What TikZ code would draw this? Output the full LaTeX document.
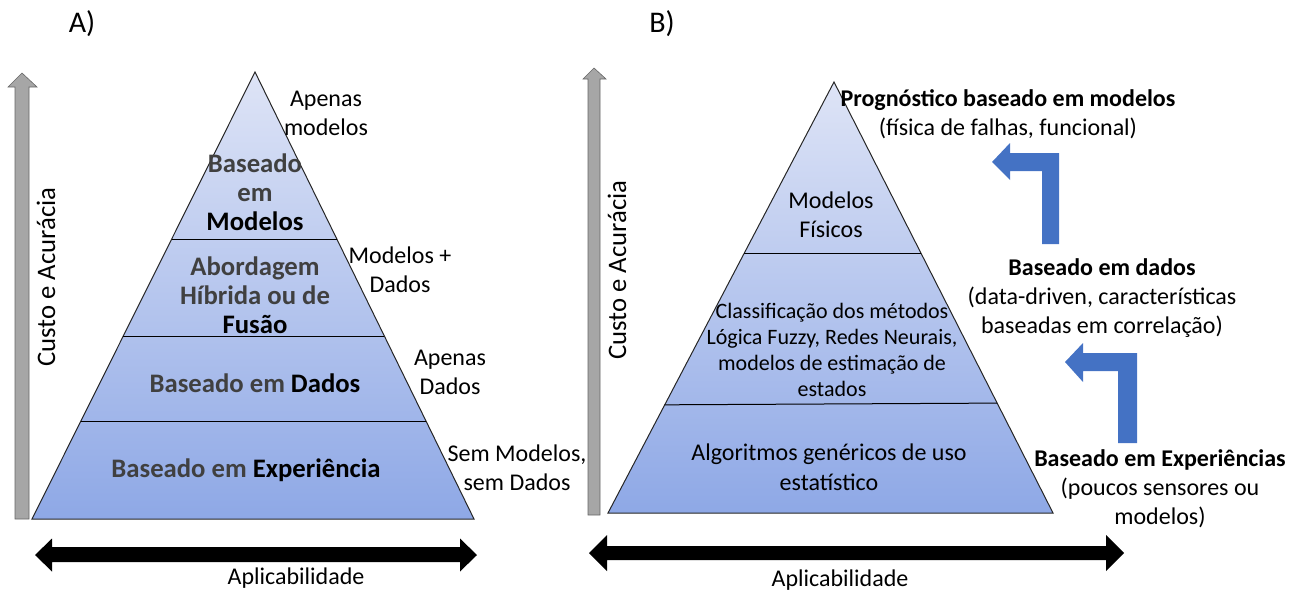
\documentclass[tikz,border=0pt]{standalone}
\usepackage{fontspec}
\setmainfont{Carlito}
\usepackage{xcolor}
\usetikzlibrary{calc}

\definecolor{topo}{RGB}{222,228,246}
\definecolor{fundo}{RGB}{142,168,230}
\definecolor{azul}{RGB}{68,114,196}
\definecolor{cinza}{RGB}{166,166,166}
\definecolor{texto}{RGB}{64,64,64}
\newcommand{\preto}[1]{\textcolor{black}{#1}}

\begin{document}
\begin{tikzpicture}[x=1pt,y=-1pt,
    rotulo/.style={font=\fontsize{24}{29}\selectfont, align=center, inner sep=0pt},
    eixo/.style={font=\fontsize{26.7}{30}\selectfont, rotate=90, inner sep=0pt},
    nivel/.style={font=\bfseries\fontsize{26.7}{29}\selectfont, text=texto, align=center, inner sep=0pt},
    letra/.style={font=\fontsize{30}{32}\selectfont, inner sep=0pt}]
    \useasboundingbox (0,0) rectangle (1305,595);

    % Painel A
    \node[letra] (la) at (82,24) {A)};

    % Piramide A
    \coordinate (TA) at (255,72);
    \coordinate (EA) at (32,519);
    \coordinate (DA) at (474,519);
    \shade[top color=topo, bottom color=fundo] (TA) -- (EA) -- (DA) -- cycle;
    \draw[line width=1pt, black!85] (TA) -- (EA) -- (DA) -- cycle;
    \draw[line width=1pt] ($(TA)!0.3736!(EA)$) -- ($(TA)!0.3736!(DA)$);
    \draw[line width=1pt] ($(TA)!0.5906!(EA)$) -- ($(TA)!0.5906!(DA)$);
    \draw[line width=1pt] ($(TA)!0.7808!(EA)$) -- ($(TA)!0.7808!(DA)$);

    \node[nivel] (a1) at (255,192) {Baseado\\em\\\preto{Modelos}};
    \node[nivel] (a2) at (255,295) {Abordagem\\Híbrida ou de\\\preto{Fusão}};
    \node[nivel] (a3) at (255,383) {Baseado em \preto{Dados}};
    \node[nivel] (a4) at (246,470) {Baseado em \preto{Experiência}};

    \node[rotulo] (ra1) at (326,113) {Apenas\\modelos};
    \node[rotulo] (ra2) at (400,270) {Modelos +\\Dados};
    \node[rotulo] (ra3) at (450,372) {Apenas\\Dados};
    \node[rotulo] (ra4) at (517,468) {Sem Modelos,\\sem Dados};

    % Eixos A
    \filldraw[fill=cinza, draw=gray!80!black, line width=0.6pt]
        (15,519) -- (15,87) -- (8,87) -- (22,73) -- (37,87) -- (29,87) -- (29,519) -- cycle;
    \node[eixo] (ca) at (46,277) {Custo e Acurácia};
    \fill (35,555) -- (52,538.5) -- (52,547) -- (460,547) -- (460,538.5) -- (477,555)
        -- (460,571.5) -- (460,562) -- (52,562) -- (52,571.5) -- cycle;
    \node[rotulo] (aa) at (296,578) {Aplicabilidade};

    % Painel B
    \node[letra] (lb) at (662,24) {B)};

    % Piramide B
    \coordinate (TB) at (834,82);
    \coordinate (EB) at (608,513);
    \coordinate (DB) at (1053,513);
    \shade[top color=topo, bottom color=fundo] (TB) -- (EB) -- (DB) -- cycle;
    \draw[line width=1pt, black!85] (TB) -- (EB) -- (DB) -- cycle;
    \draw[line width=1pt] ($(TB)!0.399!(EB)$) -- ($(TB)!0.399!(DB)$);
    \draw[line width=1pt] ($(TB)!0.749!(EB)$) -- ($(TB)!0.745!(DB)$);

    \node[rotulo] (b1) at (831,215) {Modelos\\Físicos};
    \node[rotulo, font=\fontsize{22}{26}\selectfont] (b2) at (832,350)
        {Classificação dos métodos\\Lógica Fuzzy, Redes Neurais,\\modelos de estimação de\\estados};
    \node[rotulo, font=\fontsize{24}{30}\selectfont] (b3) at (829,467) {Algoritmos genéricos de uso\\estatístico};

    \node[rotulo] (rb1) at (1008,114) {\textbf{Prognóstico baseado em modelos}\\(física de falhas, funcional)};
    \node[rotulo] (rb2) at (1102,298) {\textbf{Baseado em dados}\\(data-driven, características\\baseadas em correlação)};
    \node[rotulo] (rb3) at (1160,489) {\textbf{Baseado em Experiências}\\(poucos sensores ou\\modelos)};

    % Setas azuis
    \fill[azul] (1042,244) -- (1059,244) -- (1059,153) -- (1010,153) -- (1010,143) -- (992,162)
        -- (1010,180) -- (1010,171) -- (1042,171) -- cycle;
    \fill[azul] (1118,443) -- (1137,443) -- (1137,353) -- (1083,353) -- (1083,343) -- (1065,362)
        -- (1083,382) -- (1083,371) -- (1118,371) -- cycle;

    % Eixos B
    \filldraw[fill=cinza, draw=gray!80!black, line width=0.6pt]
        (588,515) -- (588,79) -- (583,79) -- (594,68) -- (606,79) -- (600,79) -- (600,515) -- cycle;
    \node[eixo] (cb) at (617,270) {Custo e Acurácia};
    \fill (589,553) -- (607,535) -- (607,546) -- (1106,546) -- (1106,535) -- (1124,553)
        -- (1106,571) -- (1106,560) -- (607,560) -- (607,571) -- cycle;
    \node[rotulo] (ab) at (840,580) {Aplicabilidade};
\end{tikzpicture}
\end{document}
